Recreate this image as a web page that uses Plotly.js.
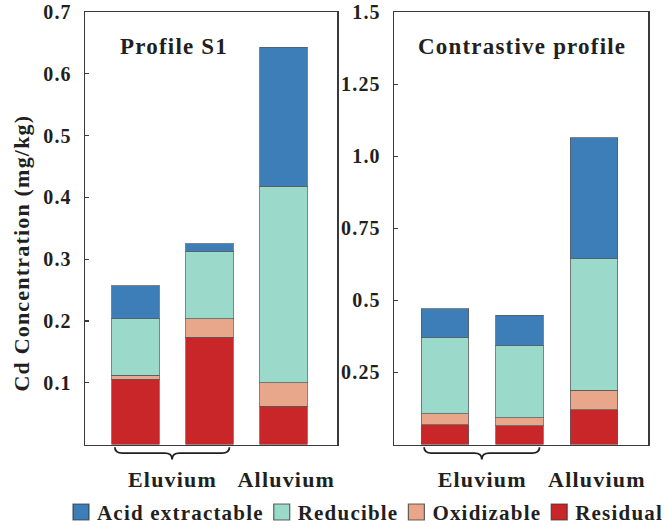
<!DOCTYPE html>
<html>
<head>
<meta charset="utf-8">
<script src="https://cdn.plot.ly/plotly-3.0.1.min.js"></script>
<style>
html,body{margin:0;padding:0;background:#fff;}
#chart{width:669px;height:526px;}
svg text{letter-spacing:1.2px;}
</style>
</head>
<body>
<div id="chart"></div>
<script>
// ---- data ----
var categories = ["Eluvium 1", "Eluvium 2", "Alluvium"];
var fractions = ["Acid extractable", "Reducible", "Oxidizable", "Residual"];
var colors = ["#3d7db8", "#9bd9ca", "#e8a78b", "#c9262a"];

// Profile S1 (mg/kg)
var s1Residual   = [0.106, 0.174, 0.062];
var s1Oxidizable = [0.006, 0.030, 0.038];
var s1Reducible  = [0.092, 0.109, 0.318];
var s1Acid       = [0.053, 0.012, 0.225];

// Contrastive profile (mg/kg)
var cpResidual   = [0.069, 0.065, 0.121];
var cpOxidizable = [0.037, 0.028, 0.068];
var cpReducible  = [0.264, 0.250, 0.455];
var cpAcid       = [0.101, 0.105, 0.421];

var groupLabels = ["Eluvium", "Alluvium"];
var s1Ticks = [0.1, 0.2, 0.3, 0.4, 0.5, 0.6, 0.7];
var s1TickText = ["0.1", "0.2", "0.3", "0.4", "0.5", "0.6", "0.7"];
var cpTicks = [0.25, 0.5, 0.75, 1.0, 1.25, 1.5];
var cpTickText = ["0.25", "0.5", "0.75", "1.0", "1.25", "1.5"];

// ---- build ----
var xIdx = categories.map(function(_, i){ return i; });
var FONT = "Liberation Serif, Times New Roman, serif";
var TXT = "#231f20";
var order = [ // bottom to top stacking
  {name: fractions[3], c: colors[3], s1: s1Residual, cp: cpResidual},
  {name: fractions[2], c: colors[2], s1: s1Oxidizable, cp: cpOxidizable},
  {name: fractions[1], c: colors[1], s1: s1Reducible, cp: cpReducible},
  {name: fractions[0], c: colors[0], s1: s1Acid, cp: cpAcid}
];
var legendRank = {"Acid extractable":1, "Reducible":2, "Oxidizable":3, "Residual":4};
var traces = [];
order.forEach(function(o){
  traces.push({type:"bar", x:xIdx, y:o.s1, name:o.name, legendgroup:o.name,
    legendrank: legendRank[o.name],
    marker:{color:o.c, line:{color:"rgba(90,90,90,0.75)", width:1}},
    width:0.64, xaxis:"x", yaxis:"y", hoverinfo:"y+name"});
  traces.push({type:"bar", x:xIdx, y:o.cp, name:o.name, legendgroup:o.name,
    showlegend:false,
    marker:{color:o.c, line:{color:"rgba(90,90,90,0.75)", width:1}},
    width:0.64, xaxis:"x2", yaxis:"y2", hoverinfo:"y+name"});
});

var W = 669, H = 526;
function px(x){ return x / W; }
function py(y){ return 1 - y / H; }

var xRange = [-0.68, 2.73];
var axisCommon = {
  showline:true, mirror:true, linecolor:"#3a3a3a", linewidth:1.5,
  showgrid:false, zeroline:false
};
function xAxis(dom, anchor){
  return Object.assign({}, axisCommon, {
    domain: dom, anchor: anchor, range: xRange, fixedrange:true,
    tickmode:"array", tickvals:[(xIdx[0]+xIdx[1])/2, xIdx[2] + 0.04], ticktext: groupLabels,
    ticks:"", ticklabelstandoff: 15,
    tickfont:{family:FONT, size:22, color:TXT, weight:"bold"}
  });
}
function yAxis(range, tv, tt, anchor){
  return Object.assign({}, axisCommon, {
    domain:[py(452.3), py(12.3)], anchor: anchor, range: range,
    tickmode:"array", tickvals: tv, ticktext: tt,
    ticks:"inside", ticklen:4, tickwidth:1.2, tickcolor:"#3a3a3a",
    ticklabelstandoff: 8,
    tickfont:{family:FONT, size:20, color:TXT, weight:"bold"}
  });
}

// curly braces under the two eluvium bars
function bracePath(a, b){
  var yTop = py(455), yMid = py(461), yBot = py(467.5), m = (a + b) / 2, d = 0.1;
  return "M" + a + "," + yTop +
    " Q" + a + "," + yMid + " " + (a + d) + "," + yMid +
    " L" + (m - d) + "," + yMid +
    " Q" + m + "," + yMid + " " + m + "," + yBot +
    " Q" + m + "," + yMid + " " + (m + d) + "," + yMid +
    " L" + (b - d) + "," + yMid +
    " Q" + b + "," + yMid + " " + b + "," + yTop;
}
var bA = xIdx[0] - 0.28, bB = xIdx[1] + 0.27;
var shapes = [
  {type:"path", xref:"x", yref:"paper", path: bracePath(bA, bB), line:{color:TXT, width:1.8}},
  {type:"path", xref:"x2", yref:"paper", path: bracePath(bA, bB), line:{color:TXT, width:1.8}}
];

var annotations = [
  {text:"Profile S1", xref:"paper", yref:"paper", x:px(174), y:py(47), xanchor:"center", yanchor:"middle",
   showarrow:false, font:{family:FONT, size:23, color:TXT, weight:"bold"}},
  {text:"Contrastive profile", xref:"paper", yref:"paper", x:px(521.5), y:py(47), xanchor:"center", yanchor:"middle",
   showarrow:false, font:{family:FONT, size:23, color:TXT, weight:"bold"}},
  {text:"Cd Concentration (mg/kg)", xref:"paper", yref:"paper", x:px(22), y:py(258), xanchor:"center", yanchor:"middle",
   textangle:-90, showarrow:false, font:{family:FONT, size:22, color:TXT, weight:"bold"}}
];

var layout = {
  width:W, height:H, margin:{l:0, r:0, t:0, b:0},
  paper_bgcolor:"#fff", plot_bgcolor:"#fff",
  barmode:"stack", showlegend:true,
  xaxis: xAxis([px(85.3), px(337.3)], "y"),
  yaxis: yAxis([0, 0.7], s1Ticks, s1TickText, "x"),
  xaxis2: xAxis([px(394.3), px(648.3)], "y2"),
  yaxis2: yAxis([0, 1.5], cpTicks, cpTickText, "x2"),
  legend:{orientation:"h", x:px(52), xanchor:"left", y:py(514), yanchor:"middle",
    font:{family:FONT, size:21, color:TXT, weight:"bold"},
    itemwidth:30, traceorder:"normal", bgcolor:"rgba(0,0,0,0)", tracegroupgap:0},
  shapes: shapes,
  annotations: annotations,
  font:{family:FONT}
};

Plotly.newPlot("chart", traces, layout, {displayModeBar:false, staticPlot:true}).then(function(gd){
  // enlarge legend boxes to match reference squares, placed close to the text
  var pts = gd.querySelectorAll(".legendpoints path");
  pts.forEach(function(p){
    p.setAttribute("d", "M12,8H-4V-8H12Z");
    p.style.stroke = "#333";
    p.style.strokeWidth = "1.2px";
  });
  // tighten legend entry spacing: box of each entry 10px after previous text
  var items = gd.querySelectorAll(".legend .traces");
  var firstBoxLeft = 73, gap = 10, rowCenter = 512;
  var nextBox = firstBoxLeft, shiftY = 0;
  items.forEach(function(it, i){
    var box = it.querySelector(".legendpoints path").getBoundingClientRect();
    if (i === 0) shiftY = rowCenter - (box.top + box.bottom) / 2;
    var tr = it.getAttribute("transform") || "";
    var m = /translate\(\s*([-\d.]+)[ ,]+([-\d.]+)\s*\)/.exec(tr);
    var tx = m ? parseFloat(m[1]) : 0, ty = m ? parseFloat(m[2]) : 0;
    it.setAttribute("transform", "translate(" + (tx + nextBox - box.left) + "," + ty + ")");
    var txt = it.querySelector("text.legendtext").getBoundingClientRect();
    nextBox = txt.right + gap;
  });
  // move the whole legend (with its clip area) down to the reference row
  var lg = gd.querySelector("g.legend");
  var lt = lg.getAttribute("transform") || "";
  var lm = /translate\(\s*([-\d.]+)[ ,]+([-\d.]+)\s*\)/.exec(lt);
  if (lm) lg.setAttribute("transform", "translate(" + lm[1] + "," + (parseFloat(lm[2]) + shiftY) + ")");
  lg.querySelectorAll("[clip-path]").forEach(function(el){ el.removeAttribute("clip-path"); });
});
</script>
</body>
</html>
